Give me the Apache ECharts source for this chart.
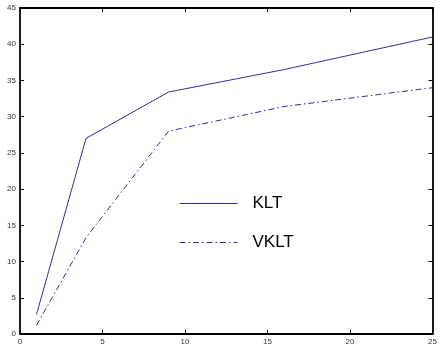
<!DOCTYPE html>
<html>
<head>
<meta charset="utf-8">
<script src="https://cdn.jsdelivr.net/npm/echarts@6/dist/echarts.min.js"></script>
<style>
  html, body { margin: 0; padding: 0; background: #fff; }
  #chart { width: 440px; height: 352px; }
</style>
</head>
<body>
<div id="chart"></div>
<script>
// 数据
const xValues = [1, 4, 9, 16, 25]
const kltValues = [2.7, 27.0, 33.4, 36.5, 41.0]
const vkltValues = [1.2, 13.3, 28.0, 31.4, 34.0]
const seriesNames = ['KLT', 'VKLT']

const lineColor = '#2f2f9c'
const axisColor = '#000'

function pairs(ys) {
  return xValues.map((x, i) => [x, ys[i]])
}

// 坐标轴通用配置（四边框）
function boxAxis(extra) {
  return {
    type: 'value',
    axisLine: { show: true, onZero: false, lineStyle: { color: axisColor, width: 1.8 } },
    axisTick: { show: true, inside: true, length: 4, lineStyle: { color: axisColor, width: 1 } },
    splitLine: { show: false },
    axisLabel: { color: '#333', fontSize: 8, fontFamily: 'Liberation Sans', margin: 4 },
    ...extra,
  }
}

const chart = echarts.init(document.getElementById('chart'))

const option = {
  backgroundColor: '#fff',
  animation: false,
  grid: { left: 20, right: 3.5, top: 8, bottom: 18 },
  xAxis: [
    boxAxis({ min: 0, max: 25, interval: 5, position: 'bottom' }),
    boxAxis({ min: 0, max: 25, interval: 5, position: 'top', axisLabel: { show: false } }),
  ],
  yAxis: [
    boxAxis({ min: 0, max: 45, interval: 5, position: 'left' }),
    boxAxis({ min: 0, max: 45, interval: 5, position: 'right', axisLabel: { show: false } }),
  ],
  legend: {
    data: seriesNames,
    orient: 'vertical',
    left: 179,
    top: 195,
    padding: 0,
    itemWidth: 58,
    itemHeight: 14,
    itemGap: 22,
    itemStyle: { opacity: 0 },
    lineStyle: { width: 1 },
    textStyle: { color: '#000', fontSize: 17, fontFamily: 'Liberation Sans', padding: [0, 0, 0, 10] },
  },
  series: [
    {
      name: seriesNames[0],
      type: 'line',
      data: pairs(kltValues),
      showSymbol: false,
      symbol: 'none',
      color: lineColor,
      lineStyle: { color: lineColor, width: 1 },
    },
    {
      name: seriesNames[1],
      type: 'line',
      data: pairs(vkltValues),
      showSymbol: false,
      symbol: 'none',
      color: lineColor,
      lineStyle: { color: lineColor, width: 1, type: [6, 3, 1.5, 3] },
    },
  ],
}

chart.setOption(option)
</script>
</body>
</html>
